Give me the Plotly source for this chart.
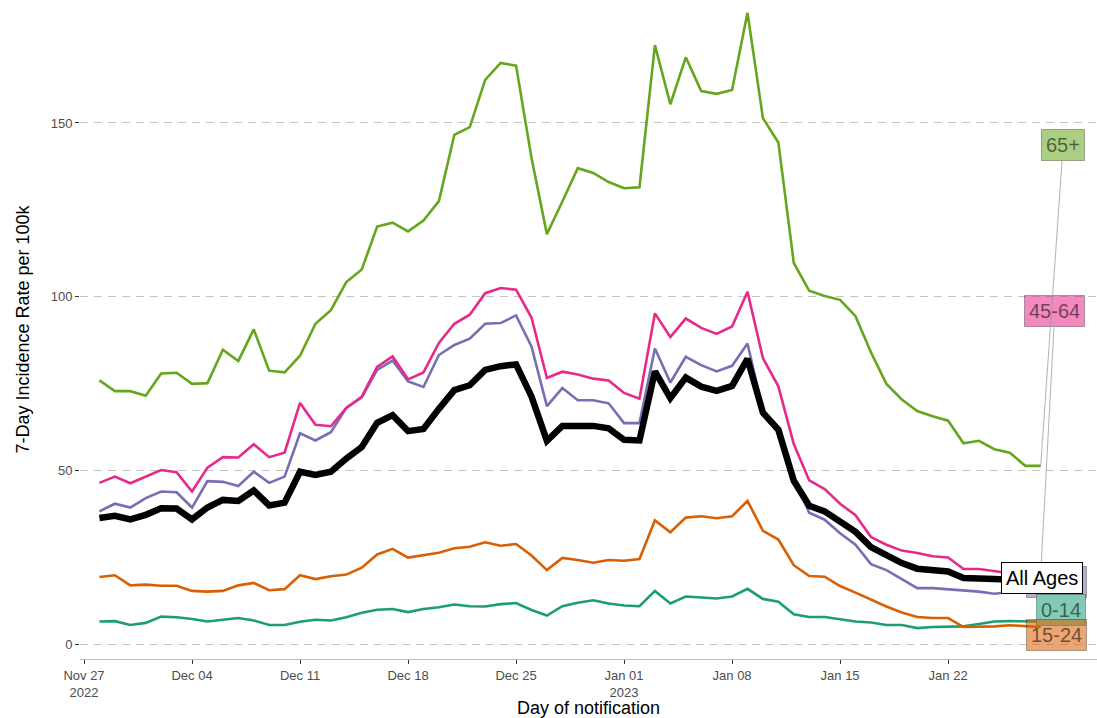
import pandas as pd
import plotly.graph_objects as go

# ---------------- data ----------------
start_date = "2022-11-28"
n_days = 62
dates = pd.date_range(start_date, periods=n_days)

age_0_14 = [6.5, 6.6, 5.5,
            6.1, 7.9, 7.7, 7.2, 6.5, 7.0, 7.5, 6.8, 5.5, 5.5, 6.4, 7.0, 6.8, 7.7, 9.0, 9.9,
            10.1, 9.2, 10.1, 10.6, 11.4, 10.9, 10.8, 11.5, 11.8, 9.8, 8.2, 10.9, 11.9, 12.6, 11.7,
            11.1, 10.9, 15.3, 11.7, 13.7, 13.5, 13.1, 13.7, 15.9, 13.0, 12.2, 8.6, 7.8, 7.8, 7.2,
            6.5, 6.2, 5.5, 5.5, 4.6, 4.9, 4.9, 5.1, 5.8, 6.5, 6.6, 6.6, 6.5]

age_15_24 = [19.3, 19.8, 16.9,
             17.1, 16.8, 16.8, 15.3, 15.1, 15.3, 16.9, 17.6, 15.5, 15.8, 19.8, 18.7, 19.5, 20.0, 22.0, 25.8,
             27.4, 24.9, 25.7, 26.3, 27.6, 28.0, 29.3, 28.3, 28.8, 25.5, 21.3, 24.8, 24.2, 23.4, 24.2,
             24.0, 24.5, 35.6, 32.2, 36.4, 36.8, 36.2, 36.8, 41.2, 32.6, 30.1, 22.7, 19.6, 19.4, 16.7,
             14.8, 12.8, 10.8, 9.1, 7.8, 7.5, 7.5, 4.9, 4.9, 5.1, 5.4, 5.1, 4.9]

age_25_44 = [38.2, 40.4, 39.3,
             42.0, 43.9, 43.7, 39.3, 46.9, 46.7, 45.5, 49.6, 46.4, 48.2, 60.7, 58.6, 61.0, 68.0, 71.0, 78.9,
             81.6, 75.6, 74.0, 83.2, 86.1, 87.9, 92.2, 92.4, 94.6, 85.7, 68.5, 73.7, 70.2, 70.2, 69.3,
             63.6, 63.6, 85.1, 75.3, 82.7, 80.3, 78.5, 80.1, 86.5, 67.2, 61.8, 47.7, 37.8, 35.8, 31.9,
             28.6, 23.0, 21.3, 18.7, 16.1, 16.1, 15.8, 15.4, 15.1, 14.5, 15.0, 15.2, 15.0]

age_45_64 = [46.4, 48.2, 46.3,
             48.2, 50.1, 49.5, 43.9, 50.8, 53.8, 53.7, 57.5, 53.8, 55.1, 69.4, 63.1, 62.7, 68.0, 71.2, 79.8,
             82.8, 76.2, 78.2, 86.7, 92.2, 94.8, 101.0, 102.5, 102.0, 94.0, 76.6, 78.4, 77.6, 76.4, 75.9,
             72.3, 70.6, 95.2, 88.4, 93.7, 91.0, 89.3, 91.4, 101.4, 82.3, 74.2, 57.6, 47.1, 44.6, 40.4,
             37.1, 30.8, 28.6, 26.9, 26.2, 25.3, 24.9, 21.6, 21.6, 20.9, 20.4, 20.1, 20.0]

age_65_plus = [75.9, 72.8, 72.8,
               71.5, 77.9, 78.1, 74.9, 75.1, 84.7, 81.5, 90.6, 78.7, 78.2, 83.0, 92.2, 96.1, 104.2, 107.8, 120.2,
               121.3, 118.8, 121.9, 127.5, 146.6, 148.8, 162.4, 167.3, 166.5, 140.0, 118.0, 127.4, 137.0, 135.6, 133.0,
               131.2, 131.5, 172.4, 155.4, 168.9, 159.2, 158.4, 159.5, 181.7, 151.4, 144.4, 109.7, 101.7, 100.2, 99.1,
               94.4, 84.0, 74.9, 70.4, 67.1, 65.6, 64.3, 57.8, 58.5, 56.1, 55.1, 51.3, 51.3]

all_ages = [36.3, 36.9, 35.9,
            37.2, 39.1, 39.0, 35.9, 39.3, 41.5, 41.2, 44.2, 39.9, 40.7, 49.6, 48.7, 49.6, 53.4, 56.7, 63.7,
            65.9, 61.3, 61.9, 67.7, 73.1, 74.5, 78.9, 80.0, 80.5, 71.3, 58.5, 62.8, 63.0, 62.8, 62.1,
            58.8, 58.6, 78.5, 70.8, 76.7, 74.1, 72.9, 74.3, 82.1, 66.6, 61.7, 47.0, 39.8, 38.2, 35.2,
            32.3, 27.9, 25.5, 23.3, 21.7, 21.3, 20.9, 19.0, 19.0, 18.7, 18.5, 18.4, 18.3]

series_names = ["0-14", "15-24", "25-44", "45-64", "65+"]
series_values = [age_0_14, age_15_24, age_25_44, age_45_64, age_65_plus]
series_colors = ["#1B9E77", "#D95F02", "#7570B3", "#E7298A", "#66A61E"]

tick_dates = ["2022-11-27", "2022-12-04", "2022-12-11", "2022-12-18", "2022-12-25",
              "2023-01-01", "2023-01-08", "2023-01-15", "2023-01-22"]
tick_labels = ["Nov 27<br>2022", "Dec 04", "Dec 11", "Dec 18", "Dec 25",
               "Jan 01<br>2023", "Jan 08", "Jan 15", "Jan 22"]
y_ticks = [0, 50, 100, 150]

# ---------------- figure ----------------
fig = go.Figure()
for name, vals, col in zip(series_names, series_values, series_colors):
    fig.add_trace(go.Scatter(x=dates, y=vals, mode="lines", name=name,
                             line=dict(color=col, width=2.6), showlegend=False))
fig.add_trace(go.Scatter(x=dates, y=all_ages, mode="lines", name="All Ages",
                         line=dict(color="black", width=6.5), showlegend=False))


def fill(hex_col, a, opaque=False):
    h = hex_col.lstrip("#")
    r, g, b = int(h[0:2], 16), int(h[2:4], 16), int(h[4:6], 16)
    if opaque:
        r, g, b = (round(a * c + (1 - a) * 255) for c in (r, g, b))
        return f"rgb({r},{g},{b})"
    return f"rgba({r},{g},{b},{a})"


last_x = dates[-1]
label_font = "Liberation Sans, Arial"
# label placement: (x offset in hours from last date, y position in data units, leader line, opaque fill)
label_pos = {
    "25-44": (24, 17.9, False, False),
    "0-14": (31, 9.9, False, True),
    "15-24": (24, 2.6, False, False),
    "45-64": (22, 95.9, True, False),
    "65+": (35, 143.7, True, False),
}
lookup = {n: (v, c) for n, v, c in zip(series_names, series_values, series_colors)}
annotations = []
for name in ["25-44", "0-14", "15-24", "45-64", "65+"]:
    vals, col = lookup[name]
    dx, ly, arrow, opaque = label_pos[name]
    lx = last_x + pd.Timedelta(hours=dx)
    annotations.append(dict(
        x=last_x, y=vals[-1], xref="x", yref="y",
        ax=lx, ay=ly, axref="x", ayref="y",
        showarrow=True, arrowhead=0, arrowwidth=0.8,
        arrowcolor="rgba(150,150,150,0.9)" if arrow else "rgba(0,0,0,0)",
        text=name, font=dict(family=label_font, size=20, color="rgba(0,0,0,0.55)"),
        bgcolor=fill(col, 0.55, opaque), bordercolor="rgba(0,0,0,0.3)", borderwidth=1, borderpad=4,
    ))
annotations.append(dict(
    x=last_x, y=all_ages[-1], xref="x", yref="y",
    ax=last_x + pd.Timedelta(hours=2), ay=19.1, axref="x", ayref="y",
    showarrow=True, arrowhead=0, arrowcolor="rgba(0,0,0,0)",
    text="All Ages", font=dict(family=label_font, size=20, color="black"),
    bgcolor="white", bordercolor="black", borderwidth=1, borderpad=4,
))

fig.update_layout(
    width=1097, height=718,
    margin=dict(l=80, r=0, t=0, b=59),
    paper_bgcolor="white", plot_bgcolor="white",
    font=dict(family="Liberation Sans, Arial", color="#4d4d4d"),
    annotations=annotations,
    showlegend=False,
)
fig.update_xaxes(
    type="date",
    range=["2022-11-26 17:47", "2023-01-31 15:36"],
    tickvals=tick_dates, ticktext=tick_labels,
    tickfont=dict(size=13, color="#4d4d4d"),
    ticks="outside", ticklen=4, tickcolor="#333333", tickwidth=1,
    showline=True, linecolor="#bdbdbd", linewidth=1,
    showgrid=False, zeroline=False,
    title=dict(text="Day of notification", font=dict(size=18, color="black"), standoff=4),
)
fig.update_yaxes(
    range=[-4.3, 185.4],
    tickvals=y_ticks,
    tickfont=dict(size=13, color="#4d4d4d"),
    ticks="outside", ticklen=4, tickcolor="#333333", tickwidth=1,
    showline=False, zeroline=False,
    showgrid=True, gridcolor="#c4c4c4", gridwidth=1, griddash="8px,6px",
    title=dict(text="7-Day Incidence Rate per 100k", font=dict(size=18, color="black"), standoff=16),
)

fig.write_html("out.html", config={"displayModeBar": False},
               post_script="document.body.style.margin='0px';")
